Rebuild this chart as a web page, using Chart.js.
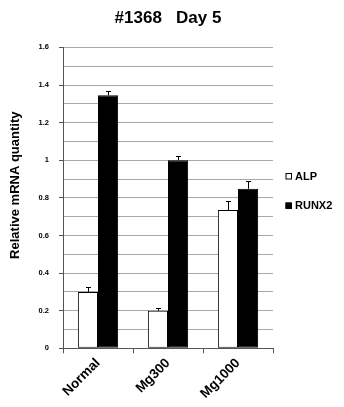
<!DOCTYPE html>
<html>
<head>
<meta charset="utf-8">
<script src="https://cdn.jsdelivr.net/npm/chart.js@4.4.1/dist/chart.umd.min.js"></script>
<style>
html,body{margin:0;padding:0;background:#fff;}
#wrap{width:344px;height:407px;position:relative;}
</style>
</head>
<body>
<div id="wrap"><canvas id="c" width="344" height="407"></canvas></div>
<script>
const categories = ["Normal", "Mg300", "Mg1000"];
const seriesNames = ["ALP", "RUNX2"];
const alpValues = [0.30, 0.20, 0.735];
const runx2Values = [1.345, 1.0, 0.848];
const alpErrors = [0.027, 0.015, 0.046];
const runx2Errors = [0.021, 0.024, 0.044];
const yTickLabels = ["0", "0.2", "0.4", "0.6", "0.8", "1", "1.2", "1.4", "1.6"];
const titleText = "#1368   Day 5";
const yTitle = "Relative mRNA quantity";

const errorBarPlugin = {
  id: 'errorBars',
  afterDatasetsDraw(chart) {
    const ctx = chart.ctx;
    const yScale = chart.scales.y;
    chart.data.datasets.forEach((ds, di) => {
      const meta = chart.getDatasetMeta(di);
      meta.data.forEach((bar, i) => {
        const v = ds.data[i], e = ds.errors[i];
        const yTop = Math.round(yScale.getPixelForValue(v + e)) + 0.5;
        const yBar = yScale.getPixelForValue(v);
        const x = Math.round(bar.x) + 0.5;
        ctx.save();
        ctx.strokeStyle = '#000';
        ctx.lineWidth = 1;
        ctx.beginPath();
        ctx.moveTo(x, yBar);
        ctx.lineTo(x, yTop);
        ctx.moveTo(x - 2.5, yTop);
        ctx.lineTo(x + 2.5, yTop);
        ctx.stroke();
        ctx.restore();
      });
    });
  }
};

const legendPlugin = {
  id: 'sideLegend',
  afterLayout(chart) {
    if (chart.titleBlock) {
      chart.titleBlock.left = chart.chartArea.left;
      chart.titleBlock.right = chart.chartArea.right;
    }
  },
  afterDraw(chart) {
    const ctx = chart.ctx;
    const x0 = chart.chartArea.right + 12.5;
    const ys = [176, 205.5];
    chart.data.datasets.forEach((ds, i) => {
      const y = ys[i];
      ctx.save();
      ctx.fillStyle = ds.backgroundColor;
      ctx.fillRect(x0, y - 3, 6, 6);
      ctx.strokeStyle = '#000';
      ctx.lineWidth = 1;
      ctx.strokeRect(x0 + 0.5, y - 2.5, 5.5, 5.5);
      ctx.fillStyle = '#000';
      ctx.font = 'bold 11px "Liberation Sans", Arial, sans-serif';
      ctx.textBaseline = 'middle';
      ctx.textAlign = 'left';
      ctx.fillText(ds.label, x0 + 9.5, y + 0.5);
      ctx.restore();
    });
  }
};

new Chart(document.getElementById('c'), {
  type: 'bar',
  data: {
    labels: categories,
    datasets: [
      { label: seriesNames[0], data: alpValues, errors: alpErrors,
        backgroundColor: '#ffffff', borderColor: '#000', borderWidth: 1, borderSkipped: false },
      { label: seriesNames[1], data: runx2Values, errors: runx2Errors,
        backgroundColor: '#000000', borderColor: '#000', borderWidth: 1, borderSkipped: false }
    ]
  },
  plugins: [errorBarPlugin, legendPlugin],
  options: {
    responsive: false,
    animation: false,
    devicePixelRatio: 1,
    layout: { padding: { left: 0, right: 71, top: 0, bottom: 0 } },
    datasets: { bar: { categoryPercentage: 0.575, barPercentage: 1.0 } },
    plugins: {
      legend: { display: false },
      tooltip: { enabled: false },
      title: {
        display: true,
        text: titleText,
        color: '#000',
        font: { family: '"Liberation Sans", Arial, sans-serif', size: 17, weight: 'bold' },
        padding: { top: 8, bottom: 19 }
      }
    },
    scales: {
      x: {
        grid: { display: true, drawOnChartArea: false, drawTicks: true, tickLength: 5, color: '#555', offset: true },
        border: { display: true, color: '#555', width: 1 },
        ticks: {
          color: '#000', minRotation: 45, maxRotation: 45, padding: 2,
          font: { family: '"Liberation Sans", Arial, sans-serif', size: 13.5, weight: 'bold' }
        },
        afterFit(s) { s.height = 58.7; }
      },
      y: {
        min: 0, max: 1.6,
        afterBuildTicks(s) {
          const t = [];
          for (let i = 0; i <= 16; i++) t.push({ value: i / 10 });
          s.ticks = t;
        },
        grid: {
          color: '#a8a8a8', lineWidth: 1, drawTicks: true, tickLength: 4,
          tickColor: (c) => (c.tick && Math.round(c.tick.value * 10) % 2 === 0) ? '#555' : 'rgba(0,0,0,0)'
        },
        border: { display: true, color: '#555', width: 1 },
        ticks: {
          color: '#000', padding: 10, autoSkip: false,
          font: { family: '"Liberation Sans", Arial, sans-serif', size: 7.5, weight: 'bold' },
          callback: (v) => {
            const k = Math.round(v * 10);
            return k % 2 === 0 ? yTickLabels[k / 2] : '';
          }
        },
        title: {
          display: true, text: '       ' + yTitle, color: '#000',
          font: { family: '"Liberation Sans", Arial, sans-serif', size: 13, weight: 'bold' },
          padding: { top: 8, bottom: 0 }
        },
        afterFit(s) { s.width = 63; }
      }
    }
  }
});
</script>
</body>
</html>
